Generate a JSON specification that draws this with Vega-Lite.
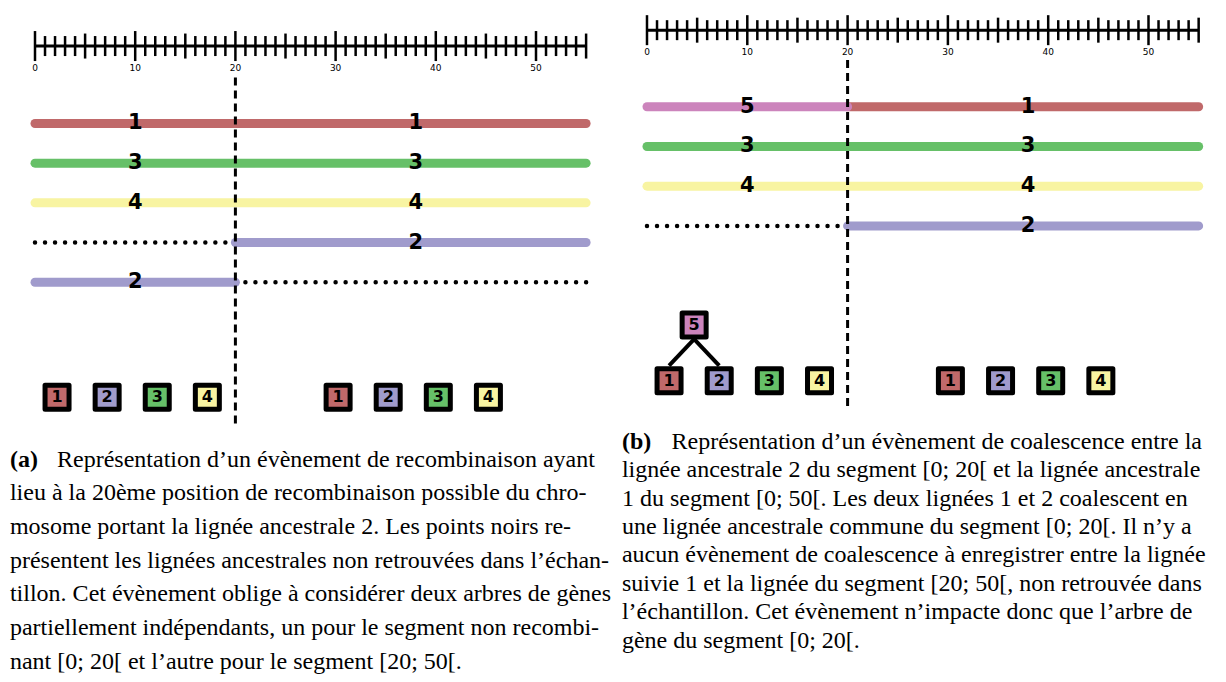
{
  "$schema": "https://vega.github.io/schema/vega-lite/v6.json",
  "padding": 0,
  "background": "white",
  "config": {"view": {"stroke": null}, "concat": {"spacing": 0}, "axis": {"disable": true}, "legend": {"disable": true}},
  "hconcat": [
    {
      "width": 615,
      "height": 682,
      "layer": [
        {
          "data": {"values": [{"x0": 0, "x1": 55}]},
          "mark": {"type": "rule", "color": "black", "strokeWidth": 3},
          "encoding": {
            "x": {"field": "x0", "type": "quantitative", "axis": null, "scale": {"domain": [-3.493, 57.884], "nice": false, "zero": false}},
            "x2": {"field": "x1"},
            "y": {"datum": -0.95, "type": "quantitative", "axis": null, "scale": {"domain": [-2.11, 15.07], "reverse": true, "nice": false, "zero": false}}
          }
        },
        {
          "data": {"values": [
            {"v":0,"k":"M"},{"v":1,"k":"s"},{"v":2,"k":"s"},{"v":3,"k":"s"},{"v":4,"k":"s"},{"v":5,"k":"m"},{"v":6,"k":"s"},{"v":7,"k":"s"},{"v":8,"k":"s"},{"v":9,"k":"s"},
            {"v":10,"k":"M"},{"v":11,"k":"s"},{"v":12,"k":"s"},{"v":13,"k":"s"},{"v":14,"k":"s"},{"v":15,"k":"m"},{"v":16,"k":"s"},{"v":17,"k":"s"},{"v":18,"k":"s"},{"v":19,"k":"s"},
            {"v":20,"k":"M"},{"v":21,"k":"s"},{"v":22,"k":"s"},{"v":23,"k":"s"},{"v":24,"k":"s"},{"v":25,"k":"m"},{"v":26,"k":"s"},{"v":27,"k":"s"},{"v":28,"k":"s"},{"v":29,"k":"s"},
            {"v":30,"k":"M"},{"v":31,"k":"s"},{"v":32,"k":"s"},{"v":33,"k":"s"},{"v":34,"k":"s"},{"v":35,"k":"m"},{"v":36,"k":"s"},{"v":37,"k":"s"},{"v":38,"k":"s"},{"v":39,"k":"s"},
            {"v":40,"k":"M"},{"v":41,"k":"s"},{"v":42,"k":"s"},{"v":43,"k":"s"},{"v":44,"k":"s"},{"v":45,"k":"m"},{"v":46,"k":"s"},{"v":47,"k":"s"},{"v":48,"k":"s"},{"v":49,"k":"s"},
            {"v":50,"k":"M"},{"v":51,"k":"s"},{"v":52,"k":"s"},{"v":53,"k":"s"},{"v":54,"k":"s"},{"v":55,"k":"m"}
          ]},
          "mark": {"type": "tick", "orient": "vertical", "color": "black", "thickness": 2.5, "opacity": 1},
          "encoding": {
            "x": {"field": "v", "type": "quantitative", "axis": null},
            "y": {"datum": -0.95, "type": "quantitative", "axis": null},
            "size": {"field": "k", "type": "ordinal", "legend": null, "scale": {"domain": ["M", "m", "s"], "range": [30, 20, 10]}}
          }
        },
        {
          "data": {"values": [{"v": 0}, {"v": 10}, {"v": 20}, {"v": 30}, {"v": 40}, {"v": 50}]},
          "mark": {"type": "text", "font": "DejaVu Sans", "fontSize": 9, "baseline": "middle", "align": "center", "color": "black"},
          "encoding": {
            "x": {"field": "v", "type": "quantitative", "axis": null},
            "y": {"datum": -0.4, "type": "quantitative", "axis": null},
            "text": {"field": "v", "type": "quantitative"}
          }
        },
        {
          "data": {"values": [
            {"lane":1,"x0":0,"x1":55,"id":"1"},
            {"lane":2,"x0":0,"x1":55,"id":"3"},
            {"lane":3,"x0":0,"x1":55,"id":"4"},
            {"lane":4,"x0":20,"x1":55,"id":"2"},
            {"lane":5,"x0":0,"x1":20,"id":"2"}
          ]},
          "mark": {"type": "rule", "strokeWidth": 9, "strokeCap": "round"},
          "encoding": {
            "x": {"field": "x0", "type": "quantitative", "axis": null},
            "x2": {"field": "x1"},
            "y": {"field": "lane", "type": "quantitative", "axis": null},
            "color": {"field": "id", "type": "nominal", "legend": null, "scale": {"domain": ["1", "2", "3", "4", "5"], "range": ["#c0696a", "#a09bcc", "#66c068", "#f8f4a2", "#cc84bc"]}}
          }
        },
        {
          "data": {"values": [
            {"lane":4,"x0":0,"x1":19},
            {"lane":5,"x0":21,"x1":55}
          ]},
          "mark": {"type": "rule", "strokeWidth": 4.5, "strokeCap": "round", "strokeDash": [0, 10.02], "color": "black"},
          "encoding": {
            "x": {"field": "x0", "type": "quantitative", "axis": null},
            "x2": {"field": "x1"},
            "y": {"field": "lane", "type": "quantitative", "axis": null}
          }
        },
        {
          "data": {"values": [{"bp": 20}]},
          "mark": {"type": "rule", "color": "black", "strokeWidth": 3, "strokeDash": [8, 5]},
          "encoding": {
            "x": {"field": "bp", "type": "quantitative", "axis": null},
            "y": {"datum": -0.16, "type": "quantitative", "axis": null},
            "y2": {"datum": 8.62}
          }
        },
        {
          "data": {"values": [
            {"lane":1,"x":10,"t":"1"},{"lane":1,"x":38,"t":"1"},
            {"lane":2,"x":10,"t":"3"},{"lane":2,"x":38,"t":"3"},
            {"lane":3,"x":10,"t":"4"},{"lane":3,"x":38,"t":"4"},
            {"lane":4,"x":38,"t":"2"},{"lane":5,"x":10,"t":"2"}
          ]},
          "mark": {"type": "text", "font": "DejaVu Sans", "fontWeight": "bold", "fontSize": 21, "baseline": "middle", "align": "center", "color": "black"},
          "encoding": {
            "x": {"field": "x", "type": "quantitative", "axis": null},
            "y": {"field": "lane", "type": "quantitative", "axis": null},
            "text": {"field": "t", "type": "nominal"}
          }
        },
        {
          "data": {"values": [
            {"x":2.2,"row":7.9,"id":"1"},{"x":7.2,"row":7.9,"id":"2"},{"x":12.2,"row":7.9,"id":"3"},{"x":17.2,"row":7.9,"id":"4"},
            {"x":30.25,"row":7.9,"id":"1"},{"x":35.25,"row":7.9,"id":"2"},{"x":40.25,"row":7.9,"id":"3"},{"x":45.25,"row":7.9,"id":"4"}
          ]},
          "mark": {"type": "point", "shape": "square", "filled": true, "size": 576, "stroke": "black", "strokeWidth": 5, "strokeJoin": "round", "opacity": 1},
          "encoding": {
            "x": {"field": "x", "type": "quantitative", "axis": null},
            "y": {"field": "row", "type": "quantitative", "axis": null},
            "fill": {"field": "id", "type": "nominal", "legend": null, "scale": {"domain": ["1", "2", "3", "4", "5"], "range": ["#c0696a", "#a09bcc", "#66c068", "#f8f4a2", "#cc84bc"]}}
          }
        },
        {
          "data": {"values": [
            {"x":2.2,"row":7.9,"id":"1"},{"x":7.2,"row":7.9,"id":"2"},{"x":12.2,"row":7.9,"id":"3"},{"x":17.2,"row":7.9,"id":"4"},
            {"x":30.25,"row":7.9,"id":"1"},{"x":35.25,"row":7.9,"id":"2"},{"x":40.25,"row":7.9,"id":"3"},{"x":45.25,"row":7.9,"id":"4"}
          ]},
          "mark": {"type": "text", "font": "DejaVu Sans", "fontWeight": "bold", "fontSize": 16, "baseline": "middle", "align": "center", "color": "black"},
          "encoding": {
            "x": {"field": "x", "type": "quantitative", "axis": null},
            "y": {"field": "row", "type": "quantitative", "axis": null},
            "text": {"field": "id", "type": "nominal"}
          }
        },
        {
          "data": {"values": [
            {"row":9.48,"x":2.2,"t":"Représentation d’un évènement de recombinaison ayant"},
            {"row":10.32,"x":-2.5,"t":"lieu à la 20ème position de recombinaison possible du chro-"},
            {"row":11.17,"x":-2.5,"t":"mosome portant la lignée ancestrale 2. Les points noirs re-"},
            {"row":12.02,"x":-2.5,"t":"présentent les lignées ancestrales non retrouvées dans l’échan-"},
            {"row":12.86,"x":-2.5,"t":"tillon. Cet évènement oblige à considérer deux arbres de gènes"},
            {"row":13.71,"x":-2.5,"t":"partiellement indépendants, un pour le segment non recombi-"},
            {"row":14.56,"x":-2.5,"t":"nant [0; 20[ et l’autre pour le segment [20; 50[."}
          ]},
          "mark": {"type": "text", "font": "Liberation Serif", "fontSize": 24, "baseline": "middle", "align": "left", "color": "black"},
          "encoding": {
            "x": {"field": "x", "type": "quantitative", "axis": null},
            "y": {"field": "row", "type": "quantitative", "axis": null},
            "text": {"field": "t", "type": "nominal"}
          }
        },
        {
          "data": {"values": [{"row":9.48,"x":-2.5,"t":"(a)"}]},
          "mark": {"type": "text", "font": "Liberation Serif", "fontWeight": "bold", "fontSize": 24, "baseline": "middle", "align": "left", "color": "black"},
          "encoding": {
            "x": {"field": "x", "type": "quantitative", "axis": null},
            "y": {"field": "row", "type": "quantitative", "axis": null},
            "text": {"field": "t", "type": "nominal"}
          }
        }
      ]
    },
    {
      "width": 611,
      "height": 682,
      "layer": [
        {
          "data": {"values": [{"x0": 0, "x1": 55}]},
          "mark": {"type": "rule", "color": "black", "strokeWidth": 3},
          "encoding": {
            "x": {"field": "x0", "type": "quantitative", "axis": null, "scale": {"domain": [-3.19, 57.727], "nice": false, "zero": false}},
            "x2": {"field": "x1"},
            "y": {"datum": -0.93, "type": "quantitative", "axis": null, "scale": {"domain": [-1.69, 15.49], "reverse": true, "nice": false, "zero": false}}
          }
        },
        {
          "data": {"values": [
            {"v":0,"k":"M"},{"v":1,"k":"s"},{"v":2,"k":"s"},{"v":3,"k":"s"},{"v":4,"k":"s"},{"v":5,"k":"m"},{"v":6,"k":"s"},{"v":7,"k":"s"},{"v":8,"k":"s"},{"v":9,"k":"s"},
            {"v":10,"k":"M"},{"v":11,"k":"s"},{"v":12,"k":"s"},{"v":13,"k":"s"},{"v":14,"k":"s"},{"v":15,"k":"m"},{"v":16,"k":"s"},{"v":17,"k":"s"},{"v":18,"k":"s"},{"v":19,"k":"s"},
            {"v":20,"k":"M"},{"v":21,"k":"s"},{"v":22,"k":"s"},{"v":23,"k":"s"},{"v":24,"k":"s"},{"v":25,"k":"m"},{"v":26,"k":"s"},{"v":27,"k":"s"},{"v":28,"k":"s"},{"v":29,"k":"s"},
            {"v":30,"k":"M"},{"v":31,"k":"s"},{"v":32,"k":"s"},{"v":33,"k":"s"},{"v":34,"k":"s"},{"v":35,"k":"m"},{"v":36,"k":"s"},{"v":37,"k":"s"},{"v":38,"k":"s"},{"v":39,"k":"s"},
            {"v":40,"k":"M"},{"v":41,"k":"s"},{"v":42,"k":"s"},{"v":43,"k":"s"},{"v":44,"k":"s"},{"v":45,"k":"m"},{"v":46,"k":"s"},{"v":47,"k":"s"},{"v":48,"k":"s"},{"v":49,"k":"s"},
            {"v":50,"k":"M"},{"v":51,"k":"s"},{"v":52,"k":"s"},{"v":53,"k":"s"},{"v":54,"k":"s"},{"v":55,"k":"m"}
          ]},
          "mark": {"type": "tick", "orient": "vertical", "color": "black", "thickness": 2.5, "opacity": 1},
          "encoding": {
            "x": {"field": "v", "type": "quantitative", "axis": null},
            "y": {"datum": -0.93, "type": "quantitative", "axis": null},
            "size": {"field": "k", "type": "ordinal", "legend": null, "scale": {"domain": ["M", "m", "s"], "range": [28, 20, 10]}}
          }
        },
        {
          "data": {"values": [{"v": 0}, {"v": 10}, {"v": 20}, {"v": 30}, {"v": 40}, {"v": 50}]},
          "mark": {"type": "text", "font": "DejaVu Sans", "fontSize": 9, "baseline": "middle", "align": "center", "color": "black"},
          "encoding": {
            "x": {"field": "v", "type": "quantitative", "axis": null},
            "y": {"datum": -0.39, "type": "quantitative", "axis": null},
            "text": {"field": "v", "type": "quantitative"}
          }
        },
        {
          "data": {"values": [
            {"lane":1,"x0":20,"x1":55,"id":"1"},
            {"lane":1,"x0":0,"x1":20,"id":"5"},
            {"lane":2,"x0":0,"x1":55,"id":"3"},
            {"lane":3,"x0":0,"x1":55,"id":"4"},
            {"lane":4,"x0":20,"x1":55,"id":"2"}
          ]},
          "mark": {"type": "rule", "strokeWidth": 9, "strokeCap": "round"},
          "encoding": {
            "x": {"field": "x0", "type": "quantitative", "axis": null},
            "x2": {"field": "x1"},
            "y": {"field": "lane", "type": "quantitative", "axis": null},
            "color": {"field": "id", "type": "nominal", "legend": null, "scale": {"domain": ["1", "2", "3", "4", "5"], "range": ["#c0696a", "#a09bcc", "#66c068", "#f8f4a2", "#cc84bc"]}}
          }
        },
        {
          "data": {"values": [
            {"lane":4,"x0":0,"x1":19}
          ]},
          "mark": {"type": "rule", "strokeWidth": 4.5, "strokeCap": "round", "strokeDash": [0, 10.03], "color": "black"},
          "encoding": {
            "x": {"field": "x0", "type": "quantitative", "axis": null},
            "x2": {"field": "x1"},
            "y": {"field": "lane", "type": "quantitative", "axis": null}
          }
        },
        {
          "data": {"values": [{"bp": 20}]},
          "mark": {"type": "rule", "color": "black", "strokeWidth": 3, "strokeDash": [8, 5]},
          "encoding": {
            "x": {"field": "bp", "type": "quantitative", "axis": null},
            "y": {"datum": -0.18, "type": "quantitative", "axis": null},
            "y2": {"datum": 8.61}
          }
        },
        {
          "data": {"values": [
            {"lane":1,"x":10,"t":"5"},{"lane":1,"x":38,"t":"1"},
            {"lane":2,"x":10,"t":"3"},{"lane":2,"x":38,"t":"3"},
            {"lane":3,"x":10,"t":"4"},{"lane":3,"x":38,"t":"4"},
            {"lane":4,"x":38,"t":"2"}
          ]},
          "mark": {"type": "text", "font": "DejaVu Sans", "fontWeight": "bold", "fontSize": 21, "baseline": "middle", "align": "center", "color": "black"},
          "encoding": {
            "x": {"field": "x", "type": "quantitative", "axis": null},
            "y": {"field": "lane", "type": "quantitative", "axis": null},
            "text": {"field": "t", "type": "nominal"}
          }
        },
        {
          "data": {"values": [
            {"x":4.7,"row":6.85,"xc":2.2,"rowc":7.52},
            {"x":4.7,"row":6.85,"xc":7.2,"rowc":7.52}
          ]},
          "mark": {"type": "rule", "color": "black", "strokeWidth": 4},
          "encoding": {
            "x": {"field": "x", "type": "quantitative", "axis": null},
            "x2": {"field": "xc"},
            "y": {"field": "row", "type": "quantitative", "axis": null},
            "y2": {"field": "rowc"}
          }
        },
        {
          "data": {"values": [
            {"x":2.2,"row":7.9,"id":"1"},{"x":7.2,"row":7.9,"id":"2"},{"x":12.2,"row":7.9,"id":"3"},{"x":17.2,"row":7.9,"id":"4"},
            {"x":30.25,"row":7.9,"id":"1"},{"x":35.25,"row":7.9,"id":"2"},{"x":40.25,"row":7.9,"id":"3"},{"x":45.25,"row":7.9,"id":"4"},
            {"x":4.7,"row":6.5,"id":"5"}
          ]},
          "mark": {"type": "point", "shape": "square", "filled": true, "size": 576, "stroke": "black", "strokeWidth": 5, "strokeJoin": "round", "opacity": 1},
          "encoding": {
            "x": {"field": "x", "type": "quantitative", "axis": null},
            "y": {"field": "row", "type": "quantitative", "axis": null},
            "fill": {"field": "id", "type": "nominal", "legend": null, "scale": {"domain": ["1", "2", "3", "4", "5"], "range": ["#c0696a", "#a09bcc", "#66c068", "#f8f4a2", "#cc84bc"]}}
          }
        },
        {
          "data": {"values": [
            {"x":2.2,"row":7.9,"id":"1"},{"x":7.2,"row":7.9,"id":"2"},{"x":12.2,"row":7.9,"id":"3"},{"x":17.2,"row":7.9,"id":"4"},
            {"x":30.25,"row":7.9,"id":"1"},{"x":35.25,"row":7.9,"id":"2"},{"x":40.25,"row":7.9,"id":"3"},{"x":45.25,"row":7.9,"id":"4"},
            {"x":4.7,"row":6.5,"id":"5"}
          ]},
          "mark": {"type": "text", "font": "DejaVu Sans", "fontWeight": "bold", "fontSize": 16, "baseline": "middle", "align": "center", "color": "black"},
          "encoding": {
            "x": {"field": "x", "type": "quantitative", "axis": null},
            "y": {"field": "row", "type": "quantitative", "axis": null},
            "text": {"field": "id", "type": "nominal"}
          }
        },
        {
          "data": {"values": [
            {"row":9.44,"x":2.45,"t":"Représentation d’un évènement de coalescence entre la"},
            {"row":10.16,"x":-2.5,"t":"lignée ancestrale 2 du segment [0; 20[ et la lignée ancestrale"},
            {"row":10.87,"x":-2.5,"t":"1 du segment [0; 50[. Les deux lignées 1 et 2 coalescent en"},
            {"row":11.59,"x":-2.5,"t":"une lignée ancestrale commune du segment [0; 20[. Il n’y a"},
            {"row":12.3,"x":-2.5,"t":"aucun évènement de coalescence à enregistrer entre la lignée"},
            {"row":13.02,"x":-2.5,"t":"suivie 1 et la lignée du segment [20; 50[, non retrouvée dans"},
            {"row":13.73,"x":-2.5,"t":"l’échantillon. Cet évènement n’impacte donc que l’arbre de"},
            {"row":14.45,"x":-2.5,"t":"gène du segment [0; 20[."}
          ]},
          "mark": {"type": "text", "font": "Liberation Serif", "fontSize": 24, "baseline": "middle", "align": "left", "color": "black"},
          "encoding": {
            "x": {"field": "x", "type": "quantitative", "axis": null},
            "y": {"field": "row", "type": "quantitative", "axis": null},
            "text": {"field": "t", "type": "nominal"}
          }
        },
        {
          "data": {"values": [{"row":9.44,"x":-2.5,"t":"(b)"}]},
          "mark": {"type": "text", "font": "Liberation Serif", "fontWeight": "bold", "fontSize": 24, "baseline": "middle", "align": "left", "color": "black"},
          "encoding": {
            "x": {"field": "x", "type": "quantitative", "axis": null},
            "y": {"field": "row", "type": "quantitative", "axis": null},
            "text": {"field": "t", "type": "nominal"}
          }
        }
      ]
    }
  ]
}
